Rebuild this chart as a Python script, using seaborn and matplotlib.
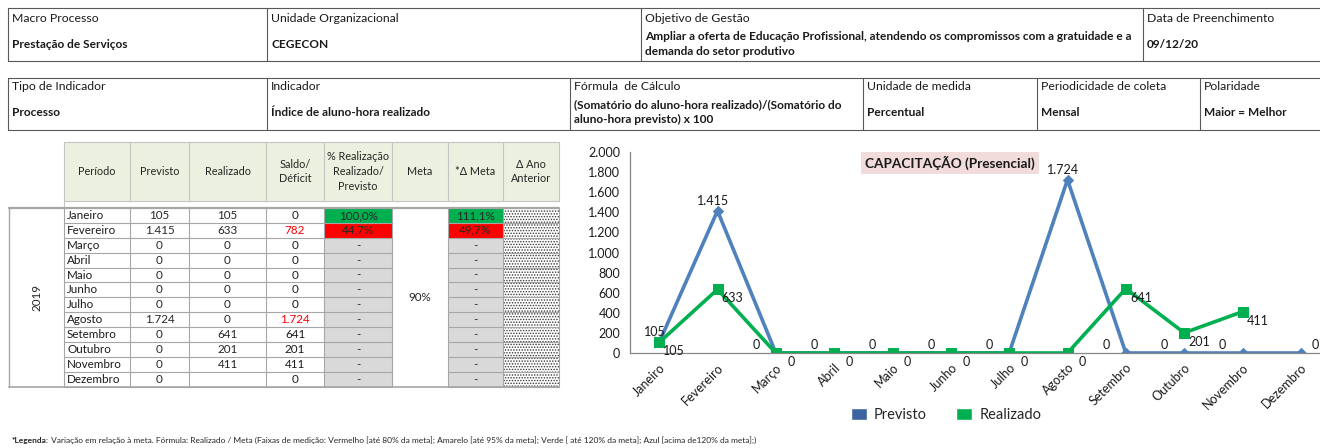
import numpy as np
import pandas as pd
import seaborn as sns
import matplotlib.pyplot as plt
from matplotlib.patches import Rectangle, Patch
from matplotlib.ticker import FuncFormatter

# ------------------ Data ------------------
months = ["Janeiro", "Fevereiro", "Março", "Abril", "Maio", "Junho",
          "Julho", "Agosto", "Setembro", "Outubro", "Novembro", "Dezembro"]
previsto = [105, 1415, 0, 0, 0, 0, 0, 1724, 0, 0, 0, 0]
realizado = [105, 633, 0, 0, 0, 0, 0, 0, 641, 201, 411, np.nan]
meta = 0.90
ano = "2019"

info1_labels = ["Macro Processo", "Unidade Organizacional", "Objetivo de Gestão", "Data de Preenchimento"]
info1_values = ["Prestação de Serviços", "CEGECON",
                "Ampliar a oferta de Educação Profissional, atendendo os compromissos com a gratuidade e a\ndemanda do setor produtivo",
                "09/12/20"]
info2_labels = ["Tipo de Indicador", "Indicador", "Fórmula  de Cálculo", "Unidade de medida",
                "Periodicidade de coleta", "Polaridade"]
info2_values = ["Processo", "Índice de aluno-hora realizado",
                "(Somatório do aluno-hora realizado)/(Somatório do\naluno-hora previsto) x 100",
                "Percentual", "Mensal", "Maior = Melhor"]
table_header = ["Período", "Previsto", "Realizado", "Saldo/\nDéficit", "% Realização\nRealizado/\nPrevisto",
                "Meta", "*Δ Meta", "Δ Ano\nAnterior"]
chart_title = "CAPACITAÇÃO (Presencial)"
footnote_bold = "*Legenda:"
footnote = (" Variação em relação à meta. Fórmula: Realizado / Meta (Faixas de medição: Vermelho [até 80% da meta]; "
            "Amarelo [até 95% da meta]; Verde [ até 120% da meta]; Azul [acima de120% da meta];)")

# ------------------ Style ------------------
sns.set_style("white")
plt.rcParams["font.family"] = ["Lato", "DejaVu Sans"]
plt.rcParams["hatch.linewidth"] = 0.7

BLUE, GREEN = "#4F81BD", "#00B050"
EDGE, GRID = "#595959", "#A6A6A6"
W, H = 1320, 448


def fmt_int(v):
    return f"{int(v):,}".replace(",", ".")


def fmt_pct(v):
    return f"{v * 100:.1f}%".replace(".", ",")


def band_color(r):
    if r < 0.8:
        return "#FF0000"
    if r < 0.95:
        return "#FFFF00"
    if r < 1.2:
        return "#00B050"
    return "#0070C0"


fig = plt.figure(figsize=(W / 100, H / 100), dpi=100)
bg = fig.add_axes([0, 0, 1, 1])
bg.set_xlim(0, W)
bg.set_ylim(H, 0)
bg.axis("off")

# ------------------ Header tables ------------------
def info_table(xs, top, bottom, labels, values, y_lab, y_val):
    bg.plot([xs[0], W], [top, top], color=EDGE, lw=0.8)
    bg.plot([xs[0], W], [bottom, bottom], color=EDGE, lw=0.8)
    for x in xs:
        bg.plot([x, x], [top, bottom], color=EDGE, lw=0.8)
    for x, lab, val in zip(xs, labels, values):
        bg.text(x + 4, y_lab, lab, fontsize=8.8, va="center", color="#1a1a1a")
        bg.text(x + 4, y_val, val, fontsize=8.6, va="center", fontweight="bold",
                linespacing=1.45, color="#1a1a1a")


info_table([8, 267, 641, 1143], 8, 61, info1_labels, info1_values, 18, 44)
info_table([8, 267, 570, 863, 1037, 1200], 78, 130, info2_labels, info2_values, 86, 112)

# ------------------ Data table ------------------
cx = [64, 130, 189, 266, 324, 392, 447.5, 503, 559]
hy0, hy1 = 142, 201
ry0, rh = 208, 14.9
n = len(months)
ry1 = ry0 + n * rh
fs = 8.4

bg.add_patch(Rectangle((cx[0], hy0), cx[-1] - cx[0], hy1 - hy0, facecolor="#EBF1DE", edgecolor="none"))
for x in cx:
    bg.plot([x, x], [hy0, hy1], color="#C4C4C4", lw=0.8)
bg.plot([cx[0], cx[-1]], [hy0, hy0], color="#C4C4C4", lw=0.8)
bg.plot([cx[0], cx[-1]], [hy1, hy1], color="#C4C4C4", lw=0.8)
bg.plot([cx[0], cx[0]], [hy1, ry0], color="#C4C4C4", lw=0.8)
for i, lab in enumerate(table_header):
    bg.text((cx[i] + cx[i + 1]) / 2, (hy0 + hy1) / 2, lab, fontsize=7.8, ha="center", va="center",
            linespacing=1.4, color="#262626")

for i, m in enumerate(months):
    y = ry0 + i * rh
    yc = y + rh / 2
    p, r = previsto[i], realizado[i]
    # shaded / hatched cells
    if p > 0 and not np.isnan(r) and r > 0:
        pct = r / p
        c1, c2 = band_color(pct), band_color(pct / meta)
        t1, t2 = fmt_pct(pct), fmt_pct(pct / meta)
    else:
        c1 = c2 = "#D9D9D9"
        t1 = t2 = "-"
    bg.add_patch(Rectangle((cx[4], y), cx[5] - cx[4], rh, facecolor=c1, edgecolor="none"))
    bg.add_patch(Rectangle((cx[6], y), cx[7] - cx[6], rh, facecolor=c2, edgecolor="none"))
    bg.add_patch(Rectangle((cx[7], y), cx[8] - cx[7], rh, facecolor="white", edgecolor="#3a3a3a",
                           hatch="......", lw=0))
    # texts
    bg.text(cx[0] + 3, yc, m, fontsize=fs, va="center", color="#1a1a1a")
    bg.text((cx[1] + cx[2]) / 2, yc, fmt_int(p), fontsize=fs, ha="center", va="center")
    if not np.isnan(r):
        bg.text((cx[2] + cx[3]) / 2, yc, fmt_int(r), fontsize=fs, ha="center", va="center")
    saldo = p - (0 if np.isnan(r) else r)
    bg.text((cx[3] + cx[4]) / 2, yc, fmt_int(abs(saldo)), fontsize=fs, ha="center", va="center",
            color="#FF0000" if saldo > 0 else "#1a1a1a")
    bg.text((cx[4] + cx[5]) / 2, yc, t1, fontsize=fs, ha="center", va="center")
    bg.text((cx[6] + cx[7]) / 2, yc, t2, fontsize=fs, ha="center", va="center")
    # row lines (Meta column is merged)
    for a, b in [(cx[0], cx[5]), (cx[6], cx[8])]:
        bg.plot([a, b], [y + rh, y + rh], color=GRID, lw=0.8)

for x in cx:
    bg.plot([x, x], [ry0, ry1], color=GRID, lw=0.8)
bg.plot([9, 9], [ry0, ry1], color=GRID, lw=1.0)
bg.plot([9, cx[-1]], [ry0, ry0], color=GRID, lw=1.6)
bg.plot([9, cx[-1]], [ry1, ry1], color=GRID, lw=1.2)
bg.text((9 + cx[0]) / 2, (ry0 + ry1) / 2, ano, fontsize=fs, rotation=90, ha="center", va="center")
bg.text((cx[5] + cx[6]) / 2, (ry0 + ry1) / 2, f"{meta * 100:.0f}%", fontsize=fs, ha="center", va="center")

# ------------------ Footnote ------------------
t = bg.text(12, 440, footnote_bold, fontsize=6.05, fontweight="bold", va="center")
bg.annotate(footnote, xy=(1, 0.5), xycoords=t, fontsize=6.05, va="center", ha="left")

# ------------------ Chart ------------------
x0, xr, y0, y2000 = 630, 1330, 353, 152
ax = fig.add_axes([x0 / W, (H - y0) / H, (xr - x0) / W, (y0 - y2000) / H])
ax.set_facecolor("none")

pos = np.arange(n)
df = pd.DataFrame({"pos": np.concatenate([pos, pos]),
                   "valor": previsto + realizado,
                   "serie": ["Previsto"] * n + ["Realizado"] * n})

sns.lineplot(data=df[df["serie"] == "Previsto"], x="pos", y="valor", color=BLUE, lw=2.6,
             marker="D", markersize=5.5, markeredgecolor=BLUE, ax=ax, legend=False)
sns.lineplot(data=df[df["serie"] == "Realizado"].dropna(), x="pos", y="valor", color=GREEN, lw=2.6,
             marker="s", markersize=7.5, markeredgecolor=GREEN, ax=ax, legend=False)

for i in range(n):
    p, r = previsto[i], realizado[i]
    if p > 0:
        off = (-4, 10)
    elif np.isnan(r):
        off = (14, 8)
    else:
        off = (-20, 8)
    ax.annotate(fmt_int(p), (i, p), xytext=off, textcoords="offset pixels", ha="center", va="center",
                fontsize=9, color="#1a1a1a", annotation_clip=False)
    if not np.isnan(r):
        ax.annotate(fmt_int(r), (i, r), xytext=(15, -9), textcoords="offset pixels", ha="center",
                    va="center", fontsize=9, color="#1a1a1a", annotation_clip=False)

ax.set_xlim(-0.5, n - 0.5)
ax.set_ylim(0, 2000)
ax.set_yticks(np.arange(0, 2001, 200))
ax.yaxis.set_major_formatter(FuncFormatter(lambda v, _: fmt_int(v)))
ax.set_xticks(pos)
ax.set_xticklabels(months, rotation=45, ha="right", rotation_mode="anchor")
ax.set_xticks(np.arange(-0.5, n, 1), minor=True)
ax.tick_params(axis="x", which="major", length=0, labelsize=9, pad=6, colors="#1a1a1a")
ax.tick_params(axis="x", which="minor", length=5, color="#868686", direction="out")
ax.tick_params(axis="y", length=4, labelsize=9, pad=3, colors="#1a1a1a")
ax.tick_params(axis="y", color="#868686")
ax.set_xlabel("")
ax.set_ylabel("")
for s in ["top", "right"]:
    ax.spines[s].set_visible(False)
for s in ["left", "bottom"]:
    ax.spines[s].set_color("#868686")
    ax.spines[s].set_linewidth(0.9)

fig.text(950 / W, 1 - 163 / H, chart_title, fontsize=9.8, fontweight="bold", ha="center", va="center",
         color="#1a1a1a", bbox=dict(boxstyle="square,pad=0.32", facecolor="#F2DCDB", edgecolor="none"))

handles = [Patch(facecolor="#3D64A0"), Patch(facecolor=GREEN)]
fig.legend(handles, ["Previsto", "Realizado"], loc="center", bbox_to_anchor=(946 / W, 1 - 415 / H),
           ncol=2, frameon=False, fontsize=10.5, handlelength=1.1, handleheight=0.8,
           handletextpad=0.5, columnspacing=2.0)

fig.savefig("out.png", dpi=100)
